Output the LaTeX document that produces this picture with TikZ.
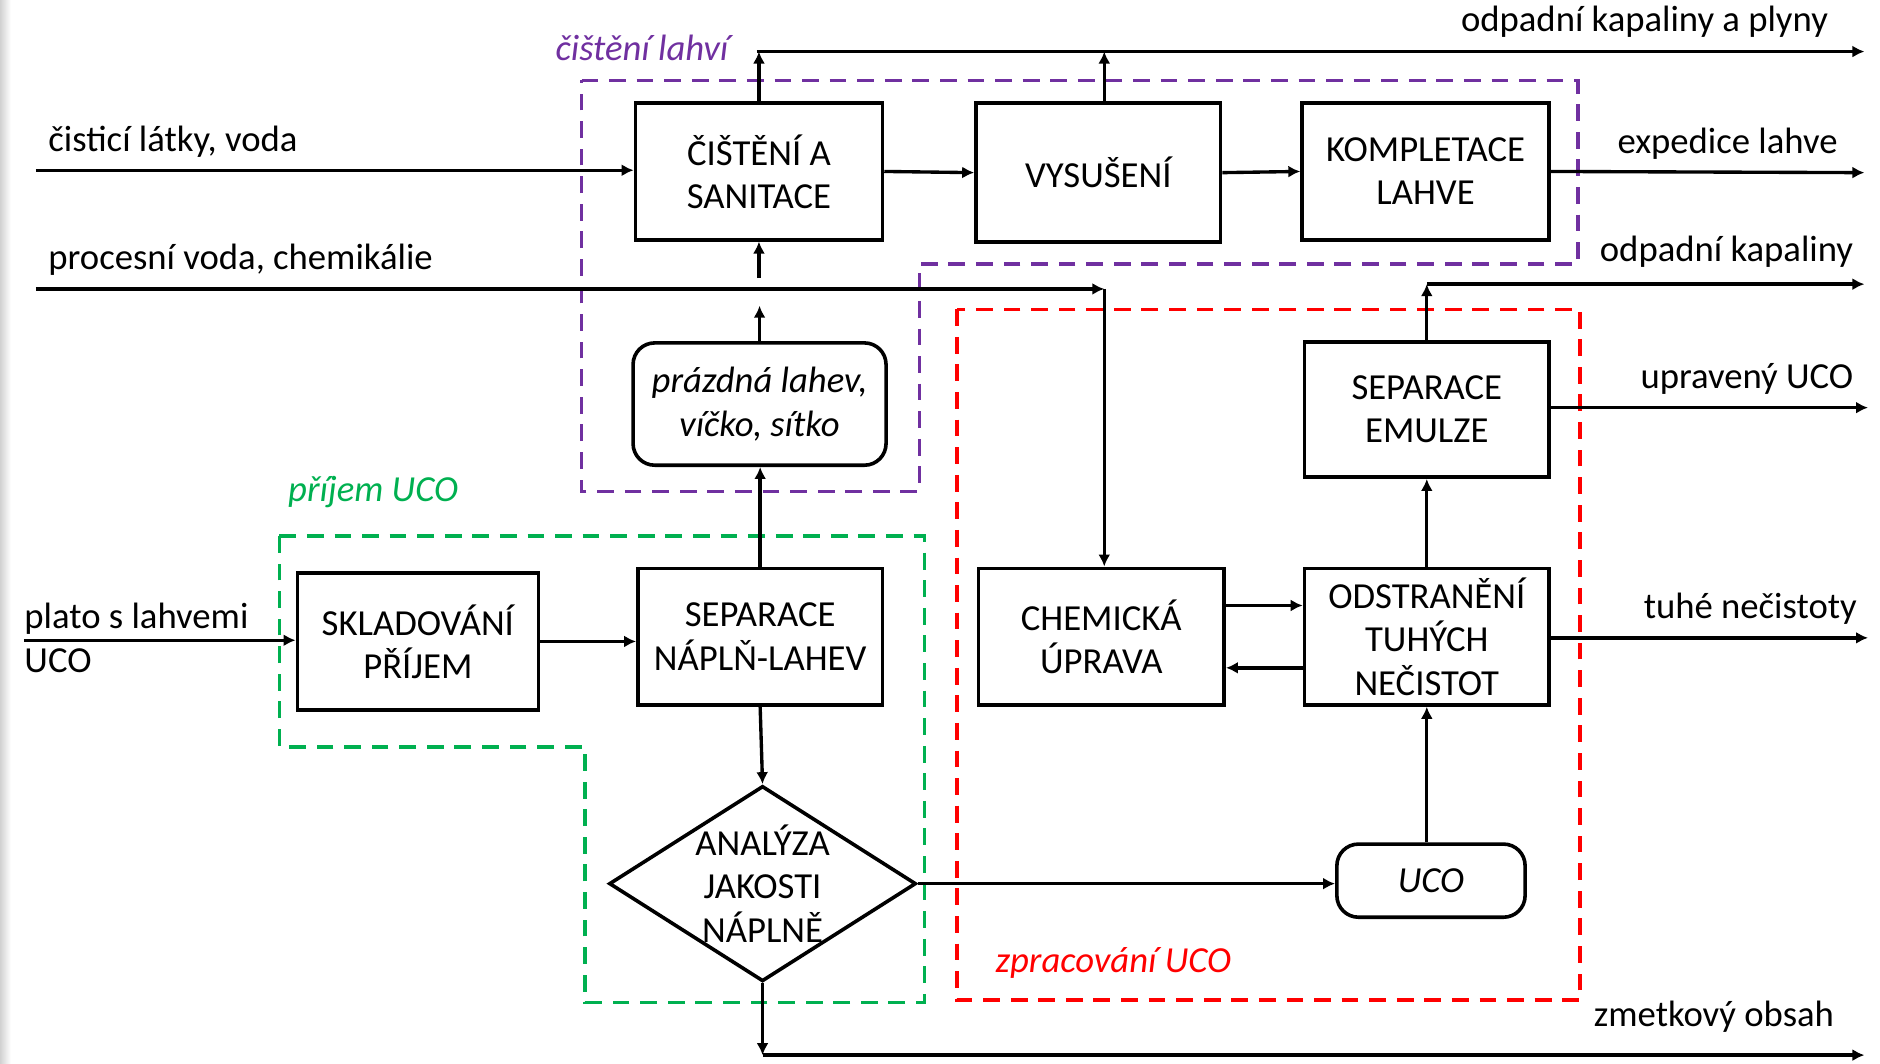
\documentclass[tikz,border=0pt]{standalone}
\usepackage{fontspec}
\setmainfont{Carlito}
\usetikzlibrary{shapes.geometric,arrows.meta}
\definecolor{cpurple}{HTML}{7030A0}
\definecolor{cgreen}{HTML}{00B050}
\definecolor{cred}{HTML}{FF0000}
\tikzset{
  every node/.style={font=\fontsize{15.3}{18}\selectfont},
  procbox/.style={draw, line width=1.5pt, inner sep=0pt, align=center},
  roundbox/.style={procbox, rounded corners=9pt, font=\fontsize{15.3}{18}\selectfont\itshape},
  flow/.style={line width=1.4pt, -{Latex[length=5pt,width=5pt]}},
  grp/.style={line width=1.5pt, dash pattern=on 7pt off 4.5pt},
  lbl/.style={inner sep=0pt},
  grplbl/.style={inner sep=0pt, font=\fontsize{15.3}{18}\selectfont\itshape}
}
\begin{document}
\begin{tikzpicture}[x=0.5pt,y=-0.5pt]
\useasboundingbox (0,0) rectangle (1568,887);
\shade[left color=black!18, right color=white] (0,0) rectangle (9,887);

% group outlines
\draw[grp, cpurple] (485,67) -- (1316,67) -- (1316,220) -- (767,220) -- (767,410) -- (485,410) -- cycle;
\draw[grp, cgreen] (233,447) -- (771,447) -- (771,836) -- (488,836) -- (488,623) -- (233,623) -- cycle;
\draw[grp, cred] (798,258) rectangle (1318,834);
\node[grplbl, text=cpurple, anchor=west] (glp) at (463,40) {čištění lahví};
\node[grplbl, text=cgreen, anchor=west] (glg) at (240,410) {příjem UCO};
\node[grplbl, text=cred, anchor=west] (glr) at (830,803) {zpracování UCO};

% boxes
\node[procbox, minimum width=103pt, minimum height=57pt] (cis) at (633,143) {ČIŠTĚNÍ A\\SANITACE};
\node[procbox, minimum width=102pt, minimum height=58pt] (vys) at (916,144) {VYSUŠENÍ};
\node[procbox, minimum width=103pt, minimum height=57pt] (kom) at (1189,143) {KOMPLETACE\\LAHVE};
\node[roundbox, minimum width=105.5pt, minimum height=51pt] (pra) at (633.5,337) {prázdná lahev,\\víčko, sítko};
\node[procbox, minimum width=100.5pt, minimum height=57pt] (skl) at (348.5,535) {SKLADOVÁNÍ\\PŘÍJEM};
\node[procbox, minimum width=102pt, minimum height=57pt] (sep) at (634,531) {SEPARACE\\NÁPLŇ-LAHEV};
\node[procbox, minimum width=102.5pt, minimum height=57pt] (chem) at (918.5,531) {CHEMICKÁ\\ÚPRAVA};
\node[procbox, minimum width=102pt, minimum height=57pt] (ods) at (1190,531) {ODSTRANĚNÍ\\TUHÝCH\\NEČISTOT};
\node[procbox, minimum width=102pt, minimum height=56.5pt] (sem) at (1190,341.5) {SEPARACE\\EMULZE};
\node[roundbox, minimum width=78.5pt, minimum height=30.5pt] (uco) at (1193.5,734.5) {UCO};
\node[draw, diamond, line width=1.5pt, inner sep=0pt, minimum width=128pt, minimum height=81.5pt,
      label={[align=center]center:ANALÝZA\\JAKOSTI\\NÁPLNĚ}] (ana) at (636,737) {};

% stream labels
\node[lbl, anchor=east] (lout1) at (1525,18) {odpadní kapaliny a plyny};
\node[lbl, anchor=east] (lout2) at (1533,120) {expedice lahve};
\node[lbl, anchor=east] (lout3) at (1546,210) {odpadní kapaliny};
\node[lbl, anchor=east] (lout4) at (1546,316) {upravený UCO};
\node[lbl, anchor=east] (lout5) at (1549,508) {tuhé nečistoty};
\node[lbl, anchor=east] (lout6) at (1530,848) {zmetkový obsah};
\node[lbl, anchor=west] (lin1) at (40,118) {čisticí látky, voda};
\node[lbl, anchor=west] (lin2) at (40,217) {procesní voda, chemikálie};
\node[lbl, anchor=west, align=left] (lin3) at (20,532) {plato s lahvemi\\UCO};

% free ends
\coordinate (t1) at (631,43);
\coordinate (t2) at (1555,43);
\coordinate (e1) at (1555,144);
\coordinate (i1) at (30,142);
\coordinate (i2) at (30,241);
\coordinate (c2) at (921,241);
\coordinate (g1) at (633,255);
\coordinate (g2) at (633,232);
\coordinate (i3) at (20,534);
\coordinate (c3) at (636,880);
\coordinate (e3) at (1555,880);
\coordinate (c4) at (1193,237);
\coordinate (e4) at (1555,237);
\coordinate (e5) at (1558,340);
\coordinate (e6) at (1558,532);

% connectors
\draw[flow] (t1) -- (t2);
\draw[flow] (cis.north) -- (cis.north |- t1);
\draw[flow] ([xshift=2.5pt]vys.north) -- ([xshift=2.5pt]vys.north |- t1);
\draw[flow] (cis.east) -- (vys.west);
\draw[flow] (vys.east) -- (kom.west);
\draw[flow] (kom.east) -- (e1);
\draw[flow] (i1) -- (cis.west |- i1);
\draw[flow] (i2) -- (c2);
\draw[flow] (c2) -- (c2 |- chem.north);
\draw[flow] (pra.north) -- (pra.north |- g1);
\draw[flow] (g2) -- (cis.south);
\draw[flow] (sep.north) -- (sep.north |- pra.south);
\draw[flow] (i3) -- (skl.west |- i3);
\draw[flow] (skl.east) -- (skl.east -| sep.west);
\draw[flow] (sep.south) -- (ana.north);
\draw[flow] (ana.east) -- (ana.east -| uco.west);
\draw[flow] (ana.south) -- (c3);
\draw[flow] (c3) -- (e3);
\draw[flow] ([yshift=13pt]chem.east) -- ([yshift=13pt]chem.east -| ods.west);
\draw[flow] ([yshift=-13pt]ods.west) -- ([yshift=-13pt]ods.west -| chem.east);
\draw[flow] (uco.north -| ods.south) -- (ods.south);
\draw[flow] (ods.north) -- (sem.south);
\draw[flow] (sem.east |- e5) -- (e5);
\draw[flow] (sem.north) -- (sem.north |- c4);
\draw[flow] (c4 -| sem.north) -- (e4);
\draw[flow] (ods.east |- e6) -- (e6);
\end{tikzpicture}
\end{document}
